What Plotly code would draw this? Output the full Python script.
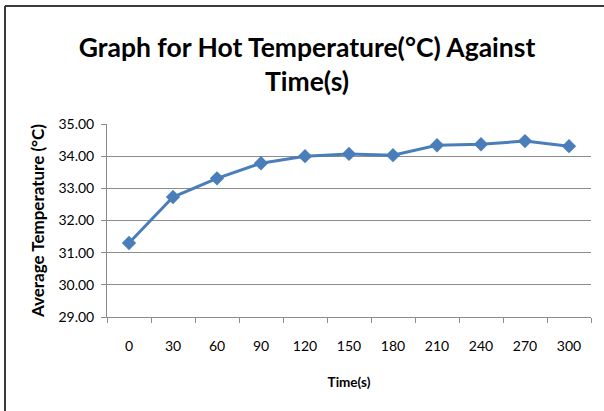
import plotly.graph_objects as go

times = ["0", "30", "60", "90", "120", "150", "180", "210", "240", "270", "300"]
temps = [31.30, 32.73, 33.31, 33.78, 34.00, 34.07, 34.03, 34.34, 34.37, 34.47, 34.31]
y_ticks = [29, 30, 31, 32, 33, 34, 35]

W, H = 604, 411
ml, mr, mt, mb = 107, 13, 124, 94

fig = go.Figure()
fig.add_trace(go.Scatter(
    x=times, y=temps, mode="lines+markers",
    line=dict(color="#4A7EBB", width=3),
    marker=dict(symbol="diamond", size=11, color="#4A7EBB"),
    cliponaxis=False,
))

font_main = "Lato, sans-serif"

fig.update_layout(
    width=W, height=H,
    margin=dict(l=ml, r=mr, t=mt, b=mb),
    paper_bgcolor="white", plot_bgcolor="white",
    showlegend=False,
    title=dict(
        text="<b>Graph for Hot Temperature(°C) Against<br>Time(s)</b>",
        x=(307) / W, xanchor="center", xref="container",
        y=1 - 57 / H, yanchor="middle", yref="container",
        font=dict(family=font_main, size=26.5, color="black"),
    ),
    font=dict(family=font_main, color="black"),
)

fig.update_xaxes(
    type="category", categoryorder="array", categoryarray=times,
    range=[-0.5, len(times) - 0.5],
    tickson="boundaries", ticks="outside", ticklen=5, tickcolor="#8C8C8C",
    showline=True, linecolor="#8C8C8C", linewidth=1,
    showgrid=False, tickfont=dict(size=14, color="black"),
    ticklabelstandoff=16,
    title=dict(text="<b>Time(s)</b>", font=dict(size=13.5, color="black"), standoff=24),
)
fig.update_yaxes(
    range=[29, 35], tickvals=y_ticks, tickformat=".2f",
    ticks="outside", ticklen=5, tickcolor="#8C8C8C",
    showline=True, linecolor="#8C8C8C", linewidth=1,
    showgrid=True, gridcolor="#8C8C8C", gridwidth=1,
    zeroline=False, tickfont=dict(size=14, color="black"),
    ticklabelstandoff=4,
    title=dict(text="<b>Average Temperature (°C)</b>", font=dict(size=17, color="black"), standoff=9),
)

pw, ph = W - ml - mr, H - mt - mb
# outer chart border (top and left edges)
fig.add_shape(type="line", xref="paper", yref="paper",
              x0=(5 - ml) / pw, x1=(W + 5 - ml) / pw,
              y0=(H - 6 - mb) / ph, y1=(H - 6 - mb) / ph,
              line=dict(color="#3A3A3A", width=2))
fig.add_shape(type="line", xref="paper", yref="paper",
              x0=(5 - ml) / pw, x1=(5 - ml) / pw,
              y0=(H - 6 - mb) / ph, y1=(-10 - mb) / ph,
              line=dict(color="#3A3A3A", width=2))

fig.write_html("out.html", config={"displayModeBar": False},
               post_script="document.body.style.margin='0';")
